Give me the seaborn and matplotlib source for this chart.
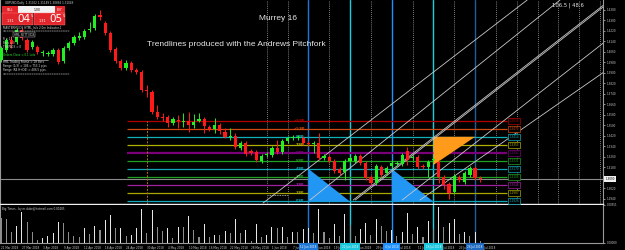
import matplotlib
matplotlib.use("Agg")
import matplotlib.pyplot as plt
from matplotlib.patches import Polygon, Rectangle
from matplotlib.lines import Line2D
import numpy as np
import pandas as pd
import seaborn as sns

# ---------------- data ----------------
bars = list(range(93))
open_ = [1.3999, 1.4075, 1.4151, 1.4136, 1.4227, 1.4151, 1.4098, 1.4098, 1.4052, 1.4045,
         1.4045, 1.4075, 1.3991, 1.4090, 1.4128, 1.4166, 1.4174, 1.4227, 1.4243, 1.4342,
         1.4281, 1.4205, 1.4083, 1.3991, 1.3938, 1.3976, 1.3923, 1.3907, 1.3770, 1.3755,
         1.3603, 1.3564, 1.3564, 1.3519, 1.3542, 1.3526, 1.3534, 1.3504, 1.3534, 1.3549,
         1.3488, 1.3473, 1.3504, 1.3450, 1.3412, 1.3420, 1.3328, 1.3366, 1.3305, 1.3298,
         1.3229, 1.3275, 1.3275, 1.3328, 1.3298, 1.3382, 1.3404, 1.3404, 1.3404, 1.3366,
         1.3359, 1.3366, 1.3252, 1.3260, 1.3229, 1.3168, 1.3145, 1.3229, 1.3229, 1.3267,
         1.3214, 1.3107, 1.3062, 1.3183, 1.3138, 1.3191, 1.3206, 1.3206, 1.3305, 1.3252,
         1.3260, 1.3191, 1.3183, 1.3237, 1.3222, 1.3107, 1.3054, 1.2993, 1.3107, 1.3069,
         1.3123, 1.3176, 1.3100]
high = [1.4105, 1.4166, 1.4182, 1.4243, 1.4243, 1.4166, 1.4151, 1.4113, 1.4075, 1.4067,
        1.4090, 1.4090, 1.4105, 1.4144, 1.4189, 1.4212, 1.4235, 1.4288, 1.4349, 1.4380,
        1.4296, 1.4220, 1.4098, 1.4006, 1.3999, 1.3991, 1.3938, 1.3923, 1.3808, 1.3770,
        1.3656, 1.3595, 1.3580, 1.3564, 1.3580, 1.3595, 1.3603, 1.3587, 1.3595, 1.3564,
        1.3504, 1.3557, 1.3519, 1.3481, 1.3481, 1.3443, 1.3382, 1.3382, 1.3321, 1.3313,
        1.3283, 1.3298, 1.3343, 1.3389, 1.3397, 1.3420, 1.3427, 1.3427, 1.3420, 1.3382,
        1.3382, 1.3443, 1.3283, 1.3275, 1.3244, 1.3183, 1.3244, 1.3267, 1.3283, 1.3283,
        1.3229, 1.3123, 1.3206, 1.3199, 1.3191, 1.3237, 1.3229, 1.3290, 1.3336, 1.3275,
        1.3275, 1.3206, 1.3237, 1.3260, 1.3237, 1.3123, 1.3069, 1.3130, 1.3123, 1.3153,
        1.3191, 1.3191, 1.3115]
low = [1.3984, 1.4060, 1.4090, 1.4121, 1.4151, 1.4060, 1.4083, 1.4045, 1.4029, 1.4029,
       1.4029, 1.3968, 1.3976, 1.4075, 1.4113, 1.4151, 1.4159, 1.4212, 1.4227, 1.4304,
       1.4189, 1.4060, 1.3976, 1.3923, 1.3923, 1.3907, 1.3892, 1.3755, 1.3717, 1.3587,
       1.3549, 1.3534, 1.3488, 1.3504, 1.3481, 1.3488, 1.3450, 1.3481, 1.3526, 1.3443,
       1.3458, 1.3443, 1.3435, 1.3404, 1.3389, 1.3321, 1.3313, 1.3267, 1.3275, 1.3222,
       1.3214, 1.3260, 1.3260, 1.3283, 1.3283, 1.3366, 1.3389, 1.3389, 1.3351, 1.3343,
       1.3290, 1.3237, 1.3237, 1.3214, 1.3138, 1.3123, 1.3084, 1.3214, 1.3214, 1.3199,
       1.3084, 1.3046, 1.3046, 1.3107, 1.3123, 1.3176, 1.3191, 1.3191, 1.3199, 1.3237,
       1.3168, 1.3168, 1.3107, 1.3222, 1.3062, 1.3016, 1.2940, 1.2978, 1.3069, 1.3054,
       1.3107, 1.3084, 1.3069]
close = [1.4090, 1.4151, 1.4121, 1.4227, 1.4166, 1.4075, 1.4136, 1.4060, 1.4060, 1.4052,
         1.4075, 1.3984, 1.4090, 1.4128, 1.4174, 1.4182, 1.4220, 1.4235, 1.4334, 1.4326,
         1.4205, 1.4075, 1.3991, 1.3938, 1.3976, 1.3923, 1.3907, 1.3770, 1.3763, 1.3603,
         1.3564, 1.3557, 1.3519, 1.3549, 1.3534, 1.3534, 1.3504, 1.3526, 1.3549, 1.3496,
         1.3473, 1.3504, 1.3458, 1.3412, 1.3420, 1.3336, 1.3366, 1.3283, 1.3290, 1.3237,
         1.3267, 1.3283, 1.3328, 1.3298, 1.3382, 1.3404, 1.3412, 1.3412, 1.3366, 1.3359,
         1.3366, 1.3252, 1.3267, 1.3229, 1.3153, 1.3138, 1.3229, 1.3252, 1.3267, 1.3214,
         1.3100, 1.3062, 1.3191, 1.3123, 1.3176, 1.3214, 1.3214, 1.3275, 1.3237, 1.3260,
         1.3183, 1.3183, 1.3222, 1.3244, 1.3107, 1.3046, 1.2985, 1.3115, 1.3084, 1.3138,
         1.3176, 1.3100, 1.3090]
volume = [0.00365, 0.00345, 0.00159, 0.00243, 0.00453, 0.00301, 0.00159, 0.00037, 0.00062, 0.00100,
          0.00135, 0.00306, 0.00282, 0.00159, 0.00100, 0.00085, 0.00209, 0.00121, 0.00243, 0.00184,
          0.00331, 0.00404, 0.00209, 0.00218, 0.00100, 0.00110, 0.00209, 0.00492, 0.00135, 0.00478,
          0.00232, 0.00169, 0.00209, 0.00071, 0.00232, 0.00232, 0.00390, 0.00184, 0.00085, 0.00268,
          0.00085, 0.00110, 0.00110, 0.00169, 0.00135, 0.00345, 0.00144, 0.00184, 0.00022, 0.00268,
          0.00085, 0.00110, 0.00223, 0.00218, 0.00223, 0.00085, 0.00159, 0.00150, 0.00194, 0.00213,
          0.00140, 0.00492, 0.00159, 0.00062, 0.00268, 0.00100, 0.00415, 0.00250, 0.00100, 0.00198,
          0.00287, 0.00110, 0.00345, 0.00243, 0.00169, 0.00180, 0.00100, 0.00159, 0.00438, 0.00121,
          0.00223, 0.00085, 0.00316, 0.00200, 0.00517, 0.00223, 0.00282, 0.00345, 0.00121, 0.00159,
          0.00096, 0.00150, 0.00026]
date_bars = list(range(0, 93, 4))
date_labels = ["21 Mar 2018", "27 Mar 2018", "3 Apr 2018", "9 Apr 2018", "12 Apr 2018",
               "18 Apr 2018", "24 Apr 2018", "30 Apr 2018", "4 May 2018", "10 May 2018",
               "16 May 2018", "22 May 2018", "28 May 2018", "1 Jun 2018", "7 Jun 2018",
               "13 Jun 2018", "19 Jun 2018", "25 Jun 2018", "29 Jun 2018", "5 Jul 2018",
               "11 Jul 2018", "17 Jul 2018", "23 Jul 2018", "27 Jul 2018"]
price_ticks = [round(1.4380 - 0.0080 * k, 4) for k in range(19)]
murrey_levels = [1.3536, 1.3475, 1.3414, 1.3353, 1.3292, 1.3231, 1.3170, 1.3109, 1.3048, 1.2987, 1.2926]
murrey_names = ["+2/8P", "+1/8P", "8/8P", "7/8P", "6/8P", "5/8P", "4/8P", "3/8P", "2/8P", "1/8P", "0/8P"]
cycle_bars = [59, 67, 75, 83, 91]
cycle_dates = ["12 Jun 2018", "22 Jun 2018", "4 Jul 2018", "16 Jul 2018", "26 Jul 2018"]
grid_bars = [51, 55, 63, 71, 79, 87, 95, 99, 103, 107, 111, 115]
# pitchfork trend lines: (bar0, price0, bar1, price1)
pitchfork = [(50.3, 1.2909, 101.0, 1.4456),
             (59.3, 1.2932, 107.3, 1.4456),
             (67.6, 1.2932, 116.9, 1.4456),
             (68.0, 1.2932, 117.3, 1.4456),
             (77.0, 1.2932, 115.6, 1.4128),
             (80.4, 1.2932, 117.1, 1.3945)]
blue_triangles = [[(59, 1.3170), (67, 1.2920), (59, 1.2920)],
                  [(75, 1.3170), (83, 1.2920), (75, 1.2920)]]
orange_triangle = [(83, 1.3414), (91, 1.3414), (83, 1.3199)]

# ---------------- style ----------------
sns.set_style("dark", {"axes.facecolor": "black", "figure.facecolor": "black"})
plt.rcParams["font.family"] = ["DejaVu Sans"]
W, H = 625, 250
fig = plt.figure(figsize=(6.25, 2.5), dpi=100, facecolor="black")
ax = fig.add_axes([0, 1 - 204 / H, 603 / W, 204 / H])
axv = fig.add_axes([0, 1 - 242.5 / H, 603 / W, 37.5 / H], sharex=ax)
PX = 0.0080 / 10.5
ytop = 1.4456
ybot = ytop - PX * 204
xl = (-1 / 5.21, 602 / 5.21)

for a in (ax, axv):
    a.set_facecolor("black")
    a.grid(False)
    for s in a.spines.values():
        s.set_color("#9a9a9a")
        s.set_linewidth(0.8)
    a.spines["top"].set_visible(False)
ax.spines["bottom"].set_color("#f0f0f0")
ax.spines["bottom"].set_linewidth(1.0)

# grid & cycle lines
for b in grid_bars:
    ax.axvline(b, color="#a8a8a8", lw=0.6, ls=(0, (1, 1.5)), zorder=1)
cyc_cols = ["#1f78d6", "#19d0e0", "#1e90ff", "#19d0e0", "#1f5c9e"]
for b, c in zip(cycle_bars, cyc_cols):
    ax.axvline(b, color=c, lw=1.0, zorder=2)
    axv.axvline(b, color=c, lw=1.0, zorder=2)

# Murrey lines
mcols = ["#b00000", "#d04a10", "#10b0b8", "#b0b000", "#7a007a", "#20a020",
         "#10a8b8", "#20a020", "#a020a0", "#a8a800", "#10a8b8"]
for lv, nm, c in zip(murrey_levels, murrey_names, mcols):
    ax.hlines(lv, 24.2, 97.2, color=c, lw=1.6 if nm == "6/8P" else 0.9, zorder=2)
    ax.text(57.3, lv - 0.0004, nm, color=c, fontsize=2.4, fontweight="bold",
            ha="center", va="center", zorder=3)
    ax.text(98.5, lv, f"{lv:.4f}", color=c, fontsize=2.0, ha="center", va="center", zorder=4,
            bbox=dict(boxstyle="square,pad=0.35", fc="black", ec=c, lw=0.5))
ax.vlines(28, ybot, murrey_levels[0], color="#b07020", lw=0.7, ls=(0, (2, 1.5)), zorder=2)
ax.hlines(1.2970, 51.2, 55.1, color="#d0d0d0", lw=0.6, ls=(0, (1, 1)), zorder=2)

# triangles
for tri in blue_triangles:
    ax.add_patch(Polygon(tri, closed=True, fc="#2196f3", ec="none", zorder=2))
ax.add_patch(Polygon(orange_triangle, closed=True, fc="#ff9a1a", ec="none", zorder=2))

# pitchfork lines
for (b0, p0, b1, p1) in pitchfork:
    ax.plot([b0, b1], [p0, p1], color="#c8c8c8", lw=0.6, zorder=3)

# current price line
ax.axhline(close[-1], color="#8a8a8a", lw=0.8, zorder=1)

# candles
df = pd.DataFrame({"bar": bars, "open": open_, "high": high, "low": low, "close": close})
up = df["close"] >= df["open"]
col = np.where(up, "#22ee22", "#ff1a1a")
ax.vlines(df["bar"], df["low"], df["high"], colors=col, lw=0.7, zorder=5)
body_lo = np.minimum(df["open"], df["close"])
body_h = np.maximum((df["close"] - df["open"]).abs(), 0.0005)
ax.bar(df["bar"], body_h, bottom=body_lo, width=0.62, color=col, lw=0, zorder=6)

ax.set_xlim(*xl)
ax.set_ylim(ybot, ytop)
ax.yaxis.tick_right()
ax.set_yticks(price_ticks)
ax.set_yticklabels([f"{v:.4f}" for v in price_ticks])
ax.tick_params(axis="y", labelsize=2.0, colors="#c8c8c8", length=1.5, width=0.5, pad=1)
ax.tick_params(axis="x", bottom=False, labelbottom=False)
ax.text(1.004, close[-1], f"{close[-1]:.4f}", transform=ax.get_yaxis_transform(),
        fontsize=2.0, color="black", ha="left", va="center", zorder=10,
        bbox=dict(boxstyle="square,pad=0.4", fc="#f0f0f0", ec="none"), clip_on=False)

# volume
vdf = pd.DataFrame({"bar": bars, "vol": volume})
vdf["rise"] = vdf["vol"].diff().fillna(0) > 0
sns.barplot(data=vdf, x="bar", y="vol", hue="rise", palette={True: "#e6e6e6", False: "#8c8c8c"},
            native_scale=True, width=0.2, saturation=1, legend=False, linewidth=0,
            edgecolor="none", ax=axv, zorder=3)
axv.set_xlim(*xl)
axv.set_ylim(0, 0.00551)
axv.set_xlabel("")
axv.set_ylabel("")
axv.yaxis.tick_right()
axv.set_yticks([0.00551, 0.0])
axv.set_yticklabels(["0.00551", "0.00000"])
axv.tick_params(axis="y", labelsize=2.0, colors="#c8c8c8", length=1.5, width=0.5, pad=1)
axv.set_xticks(date_bars)
axv.set_xticklabels(date_labels)
axv.tick_params(axis="x", labelsize=2.0, colors="#c8c8c8", length=1.5, width=0.5, pad=1.2)
for t in axv.get_xticklabels():
    t.set_ha("left")
axv.text(0.004, 0.95, "Big Times - by m.duke@hotmail.com 0.00485", transform=axv.transAxes,
         fontsize=2.0, color="#d0d0d0", ha="left", va="top")
box_cols = ["#1f78d6", "#19c8dc", "#1e90ff", "#19c8dc", "#1f6ac0"]
for b, d, c in zip(cycle_bars, cycle_dates, box_cols):
    axv.text(b, -0.11, d, transform=axv.get_xaxis_transform(), fontsize=2.0, color="#e8f4ff",
             ha="center", va="center", zorder=10, clip_on=False,
             bbox=dict(boxstyle="square,pad=0.6", fc=c, ec="none"))

# ---------------- annotations (figure pixel positions) ----------------
def fx(x):
    return x / W

def fy(y):
    return 1 - y / H

fig.text(fx(277.7), fy(18.3), "Murrey 16", fontsize=6, color="#e6e6e6", ha="center", va="center",
         family=["Liberation Sans"])
fig.text(fx(236), fy(45), "Trendlines produced with the Andrews Pitchfork", fontsize=6,
         color="#e6e6e6", ha="center", va="center", family=["Liberation Sans"])
fig.text(fx(567.5), fy(5), "106.5 | 48.6", fontsize=3.8, color="#e6e6e6", ha="center", va="center")

# one-click trading panel
def rect(x0, y0, x1, y1, fc, ec="none", lw=0.0):
    fig.add_artist(Rectangle((fx(x0), fy(y1)), (x1 - x0) / W, (y1 - y0) / H,
                             transform=fig.transFigure, fc=fc, ec=ec, lw=lw, zorder=20))

fig.text(fx(5), fy(3), "GBPUSD,Daily  1.31002 1.31149 1.30866 1.31049", fontsize=2.0,
         color="#d0d0d0", ha="left", va="center", zorder=21)
rect(2, 6.5, 17.5, 13, "#e3262b")
rect(18, 6.5, 54.5, 13, "#f2f2f2")
rect(55, 6.5, 65, 13, "#e3262b")
fig.text(fx(9.7), fy(9.8), "SELL", fontsize=2.0, color="white", ha="center", va="center", zorder=21)
fig.text(fx(37), fy(9.8), "1.00", fontsize=2.2, color="black", ha="center", va="center", zorder=21)
fig.text(fx(60), fy(9.8), "BUY", fontsize=2.0, color="white", ha="center", va="center", zorder=21)
rect(2, 13.3, 33, 24.5, "#e3262b", ec="#ff8080", lw=0.3)
rect(34, 13.3, 65, 24.5, "#e3262b", ec="#ff8080", lw=0.3)
for x0, big in ((2, "04"), (34, "05")):
    fig.text(fx(x0 + 8.5), fy(21), "1.31", fontsize=2.4, color="white", ha="center", va="center", zorder=21)
    fig.text(fx(x0 + 21.5), fy(19.2), big, fontsize=7.5, color="white", ha="center", va="center", zorder=21)
    fig.text(fx(x0 + 29.5), fy(16.3), "5", fontsize=2.6, color="white", ha="center", va="center", zorder=21)

rows = [(27, "MASTERMINDS HTML_Info 2.0m Indicator-1", "#d8d8d8"),
        (31, "==============================", "#d8d8d8"),
        (39, "R = 11", "#d8d8d8"),
        (43, "Bars = 0", "#d8d8d8"),
        (47.5, "TRSPACE = 0", "#d8d8d8"),
        (55, "Orders Close = 0.1 Lots", "#30e030"),
        (62, "HML Trading Frame = 1H Bars", "#d8d8d8"),
        (66, "Range (1/3) = 106 = 753.1 pips", "#d8d8d8"),
        (70, "Range (R4 H+D4) = 486.5 pips", "#d8d8d8"),
        (74, "==============================", "#d8d8d8")]
for yy, txt, c in rows:
    fig.text(fx(3), fy(yy), txt, fontsize=2.0, color=c, ha="left", va="center", zorder=21)
fig.text(fx(24), fy(34.5), "HML SETTINGS", fontsize=2.0, color="#d8d8d8", ha="center", va="center",
         zorder=21, bbox=dict(boxstyle="square,pad=0.3", fc="black", ec="#d8d8d8", lw=0.3))
fig.add_artist(Line2D([fx(3), fx(48)], [fy(59.5), fy(59.5)], transform=fig.transFigure,
                      color="#d8d8d8", lw=0.4, zorder=21))

fig.savefig("out.png", dpi=100, facecolor="black")
